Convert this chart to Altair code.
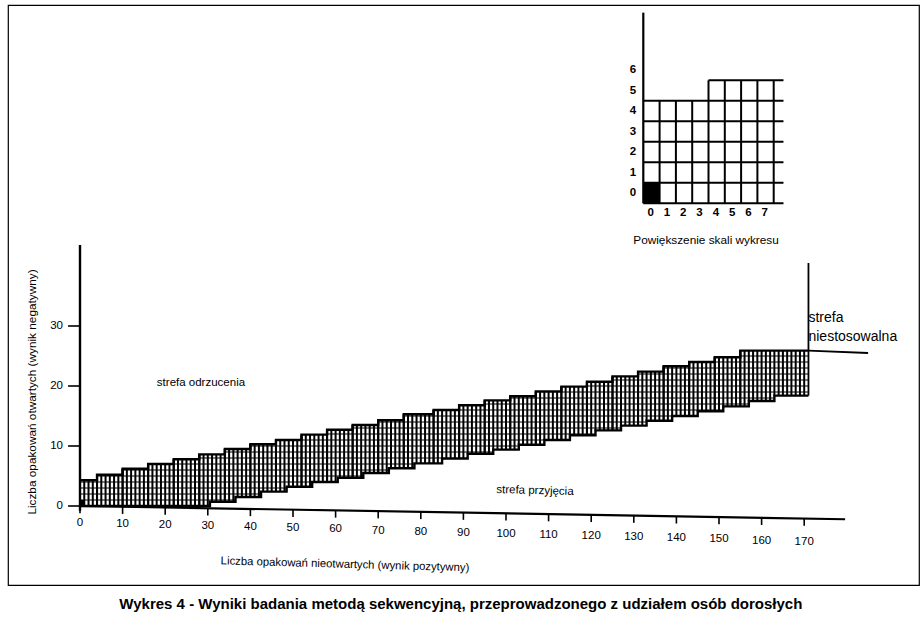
import altair as alt
import pandas as pd

# ---------------- data ----------------
# upper (rejection) staircase: step start on x, level on y
upper_start = [0, 4, 10, 16, 22, 28, 34, 40, 46, 52, 58, 64, 70, 76, 83, 89, 95,
               101, 107, 113, 119, 125, 131, 137, 143, 149, 155]
upper_value = [4.3, 5.2, 6.2, 7.0, 7.8, 8.6, 9.5, 10.3, 11.0, 11.9, 12.7, 13.5, 14.3,
               15.3, 16.0, 16.8, 17.6, 18.3, 19.1, 19.9, 20.7, 21.6, 22.4, 23.3, 24.0,
               24.8, 25.9]
# lower (acceptance) staircase
lower_start = [0, 30.5, 36.5, 42.5, 48.5, 54.5, 60.5, 66.5, 72.5, 78.5, 85, 91, 97,
               103, 109, 115, 121, 127, 133, 139, 145, 151, 157, 163]
lower_value = [0, 0.7, 1.5, 2.4, 3.2, 4.0, 4.7, 5.5, 6.3, 7.1, 7.9, 8.7, 9.4, 10.2,
               11.0, 11.8, 12.6, 13.4, 14.2, 15.0, 15.8, 16.6, 17.5, 18.4]
band_end = 171

x_ticks = [0, 10, 20, 30, 40, 50, 60, 70, 80, 90, 100, 110, 120, 130, 140, 150, 160, 170]
y_ticks = [0, 10, 20, 30]

# inset ("Powiększenie skali wykresu")
inset_x_labels = [0, 1, 2, 3, 4, 5, 6, 7]
inset_y_labels = ["0", "1", "2", "3", "4", "5", "6"]
inset_upper_start = [0, 4]
inset_upper_value = [5, 6]
inset_end = 8.6
inset_filled_x = [0]
inset_filled_y = [0]

# texts
y_title = "Liczba opakowań otwartych (wynik negatywny)"
x_title = "Liczba opakowań nieotwartych (wynik pozytywny)"
caption = "Wykres 4 - Wyniki badania metodą sekwencyjną, przeprowadzonego z udziałem osób dorosłych"
inset_title = "Powiększenie skali wykresu"

FONT = "Liberation Sans"

# ---------------- layout (pixels) ----------------
W, H = 911, 580            # plot area = framed region
PAD = {"left": 8, "top": 5, "right": 5, "bottom": 42}
# main: 0 at px(72, 501) inside plot, 4.26 px per x unit, 6 px per y unit
MXD = [-72 / 4.26, (W - 72) / 4.26]
MYD = [(501 - H) / 6.0, 501 / 6.0]
# inset: 0 at px(635.3, 198.3), 16.3 px per x unit, 20.5 px per y unit
IXD = [-635.3 / 16.3, (W - 635.3) / 16.3]
IYD = [(198.3 - H) / 20.5, 198.3 / 20.5]

AXIS_SLANT = -0.0123       # scanned x axis drifts slightly downward
LABEL_SLANT = -0.0185


def sc(d):
    return alt.Scale(domain=d, nice=False, zero=False)


def MX(f="x"):
    return alt.X(f"{f}:Q", scale=sc(MXD), axis=None)


def MY(f="y"):
    return alt.Y(f"{f}:Q", scale=sc(MYD), axis=None)


def IX(f="x"):
    return alt.X(f"{f}:Q", scale=sc(IXD), axis=None)


def IY(f="y"):
    return alt.Y(f"{f}:Q", scale=sc(IYD), axis=None)


def step_val(starts, values, x):
    v = values[0]
    for s, val in zip(starts, values):
        if s <= x:
            v = val
    return v


layers = []

# ---- band hatching: vertical cell lines ----
hx = list(range(0, band_end))
hatch = pd.DataFrame({
    "x": hx,
    "y": [step_val(lower_start, lower_value, x) for x in hx],
    "y2": [step_val(upper_start, upper_value, x) for x in hx],
})
layers.append(alt.Chart(hatch).mark_rule(color="black", strokeWidth=2.0).encode(
    x=MX(), y=MY(), y2="y2:Q"))

# ---- band hatching: horizontal cell lines ----
rows = []
for k in range(1, 27):
    xf = next((s for s, v in zip(upper_start, upper_value) if v >= k), None)
    if k <= upper_value[0]:
        xf = 0
    xt = next((s for s, v in zip(lower_start, lower_value) if v > k), band_end)
    if xf is not None and xf < xt:
        rows.append({"x": xf, "x2": xt, "y": k})
hl = pd.DataFrame(rows)
layers.append(alt.Chart(hl).mark_rule(color="black", strokeWidth=1.0).encode(
    x=MX(), x2="x2:Q", y=MY()))

# ---- block edges at each upper step ----
edges = pd.DataFrame({
    "x": upper_start[1:],
    "y": [step_val(lower_start, lower_value, s) for s in upper_start[1:]],
    "y2": [step_val(upper_start, upper_value, s) for s in upper_start[1:]],
})
layers.append(alt.Chart(edges).mark_rule(color="black", strokeWidth=2.0).encode(
    x=MX(), y=MY(), y2="y2:Q"))

# ---- staircase outlines ----
up_line = pd.DataFrame({"x": upper_start + [band_end], "y": upper_value + [upper_value[-1]]})
lo_line = pd.DataFrame({"x": lower_start + [band_end], "y": lower_value + [lower_value[-1]]})
for d in (up_line, lo_line):
    layers.append(alt.Chart(d).mark_line(color="black", strokeWidth=2.4,
                                         interpolate="step-after").encode(x=MX(), y=MY()))

# small black origin cell
layers.append(alt.Chart(pd.DataFrame({"x": [0], "x2": [1], "y": [0], "y2": [1]}))
              .mark_rect(color="black").encode(x=MX(), x2="x2:Q", y=MY(), y2="y2:Q"))

# ---- "strefa niestosowalna" boundary lines ----
layers.append(alt.Chart(pd.DataFrame({"x": [band_end], "y": [lower_value[-1]], "y2": [40.5]}))
              .mark_rule(color="black", strokeWidth=1.8).encode(x=MX(), y=MY(), y2="y2:Q"))
layers.append(alt.Chart(pd.DataFrame({"x": [band_end, 185], "y": [upper_value[-1], upper_value[-1] - 0.4]}))
              .mark_line(color="black", strokeWidth=1.8).encode(x=MX(), y=MY()))

# ---- main axes ----
layers.append(alt.Chart(pd.DataFrame({"x": [0], "y": [-0.8], "y2": [43.5]}))
              .mark_rule(color="black", strokeWidth=2.4).encode(x=MX(), y=MY(), y2="y2:Q"))
layers.append(alt.Chart(pd.DataFrame({"x": [0, 179.6], "y": [0, 179.6 * AXIS_SLANT]}))
              .mark_line(color="black", strokeWidth=2.2).encode(x=MX(), y=MY()))

ytk = pd.DataFrame({"x": [-2.8] * len(y_ticks), "x2": [0] * len(y_ticks), "y": y_ticks,
                    "lab": [str(v) for v in y_ticks], "lx": [-4.0] * len(y_ticks)})
layers.append(alt.Chart(ytk).mark_rule(color="black", strokeWidth=1.6).encode(
    x=MX(), x2="x2:Q", y=MY()))
layers.append(alt.Chart(ytk).mark_text(font=FONT, fontSize=11.5, align="right",
                                       baseline="middle").encode(x=MX("lx"), y=MY(), text="lab:N"))

xtk = pd.DataFrame({"x": x_ticks,
                    "y": [v * AXIS_SLANT for v in x_ticks],
                    "y2": [v * AXIS_SLANT - 1.2 for v in x_ticks],
                    "ly": [-2.8 + v * LABEL_SLANT for v in x_ticks],
                    "lab": [str(v) for v in x_ticks]})
layers.append(alt.Chart(xtk).mark_rule(color="black", strokeWidth=1.6).encode(
    x=MX(), y=MY(), y2="y2:Q"))
layers.append(alt.Chart(xtk).mark_text(font=FONT, fontSize=11.5, align="center",
                                       baseline="middle").encode(x=MX(), y=MY("ly"), text="lab:N"))

# ---- main texts ----
layers.append(alt.Chart(pd.DataFrame({"x": [28.4], "y": [20.5], "t": ["strefa odrzucenia"]}))
              .mark_text(font=FONT, fontSize=11.5, align="center", baseline="middle")
              .encode(x=MX(), y=MY(), text="t:N"))
layers.append(alt.Chart(pd.DataFrame({"x": [106.8], "y": [2.5], "t": ["strefa przyjęcia"]}))
              .mark_text(font=FONT, fontSize=11.5, align="center", baseline="middle", angle=1.5)
              .encode(x=MX(), y=MY(), text="t:N"))
layers.append(alt.Chart(pd.DataFrame({"x": [171.0, 171.0], "y": [31.3, 28.2],
                                      "t": ["strefa", "niestosowalna"]}))
              .mark_text(font=FONT, fontSize=14, align="left", baseline="middle")
              .encode(x=MX(), y=MY(), text="t:N"))
layers.append(alt.Chart(pd.DataFrame({"x": [-11.3], "y": [19.0], "t": [y_title]}))
              .mark_text(font=FONT, fontSize=11.8, align="center", baseline="middle", angle=270)
              .encode(x=MX(), y=MY(), text="t:N"))
layers.append(alt.Chart(pd.DataFrame({"x": [62.2], "y": [-9.8], "t": [x_title]}))
              .mark_text(font=FONT, fontSize=11.3, align="center", baseline="middle", angle=1.6)
              .encode(x=MX(), y=MY(), text="t:N"))
layers.append(alt.Chart(pd.DataFrame({"x": [89.4], "y": [-16.3], "t": [caption]}))
              .mark_text(font=FONT, fontSize=15, fontWeight="bold", align="center", baseline="middle")
              .encode(x=MX(), y=MY(), text="t:N"))

# ---------------- inset ----------------
# filled cell
layers.append(alt.Chart(pd.DataFrame({"x": inset_filled_x, "y": inset_filled_y,
                                      "x2": [v + 1 for v in inset_filled_x],
                                      "y2": [v + 1 for v in inset_filled_y]}))
              .mark_rect(color="black").encode(x=IX(), x2="x2:Q", y=IY(), y2="y2:Q"))
# horizontal grid lines
ih = []
for k in range(0, inset_upper_value[-1] + 1):
    xf = 0 if k <= inset_upper_value[0] else next(s for s, v in zip(inset_upper_start, inset_upper_value) if v >= k)
    ih.append({"x": xf, "x2": inset_end, "y": k})
layers.append(alt.Chart(pd.DataFrame(ih)).mark_rule(color="black", strokeWidth=2).encode(
    x=IX(), x2="x2:Q", y=IY()))
# vertical grid lines
ivx = list(range(1, 9))
layers.append(alt.Chart(pd.DataFrame({"x": ivx, "y": [0] * len(ivx),
                                      "y2": [step_val(inset_upper_start, inset_upper_value, x) for x in ivx]}))
              .mark_rule(color="black", strokeWidth=2).encode(x=IX(), y=IY(), y2="y2:Q"))
# inset y axis line
layers.append(alt.Chart(pd.DataFrame({"x": [0], "y": [0], "y2": [9.3]}))
              .mark_rule(color="black", strokeWidth=2.2).encode(x=IX(), y=IY(), y2="y2:Q"))
# labels
layers.append(alt.Chart(pd.DataFrame({"x": [v + 0.45 for v in inset_x_labels], "y": [-0.45] * 8,
                                      "t": [str(v) for v in inset_x_labels]}))
              .mark_text(font=FONT, fontSize=11.5, fontWeight="bold", align="center", baseline="middle")
              .encode(x=IX(), y=IY(), text="t:N"))
layers.append(alt.Chart(pd.DataFrame({"x": [-0.63] * len(inset_y_labels),
                                      "y": [i + 0.5 for i in range(len(inset_y_labels))],
                                      "t": inset_y_labels}))
              .mark_text(font=FONT, fontSize=11.5, fontWeight="bold", align="center", baseline="middle")
              .encode(x=IX(), y=IY(), text="t:N"))
layers.append(alt.Chart(pd.DataFrame({"x": [3.85], "y": [-1.79], "t": [inset_title]}))
              .mark_text(font=FONT, fontSize=11.8, align="center", baseline="middle")
              .encode(x=IX(), y=IY(), text="t:N"))

chart = (alt.layer(*layers)
         .resolve_scale(x="independent", y="independent")
         .properties(width=W, height=H, padding=PAD,
                     autosize=alt.AutoSizeParams(type="none"),
                     background="white")
         .configure_view(stroke="black", strokeWidth=1.2))

chart.save("out.html", embed_options={"renderer": "svg", "actions": False})
